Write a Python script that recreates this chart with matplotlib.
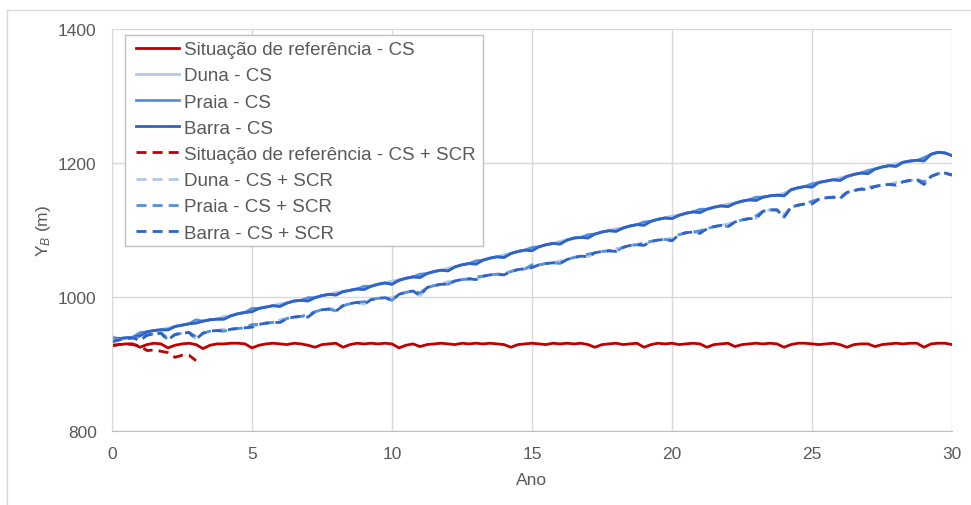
import numpy as np
import matplotlib
matplotlib.use("Agg")
import matplotlib.pyplot as plt
from matplotlib.lines import Line2D
from matplotlib.patches import Rectangle

plt.rcParams["font.family"] = ["Liberation Sans", "DejaVu Sans"]
plt.rcParams["mathtext.fontset"] = "custom"
plt.rcParams["mathtext.rm"] = "Liberation Sans"
plt.rcParams["mathtext.it"] = "Liberation Sans:italic"

# time axis: quarter-year samples over 30 years
ano = np.arange(0, 30.25, 0.25)

ref_cs = [
    927, 929, 930, 930, 925, 929, 931, 930, 924, 928, 930, 931, 929, 923, 928, 930,
    930, 931, 931, 930, 924, 928, 930, 931, 930, 929, 931, 930, 928, 925, 929, 930,
    931, 925, 929, 931, 930, 931, 930, 931, 930, 924, 928, 930, 926, 929, 930, 931,
    930, 929, 931, 930, 931, 930, 931, 930, 929, 925, 929, 930, 931, 930, 929, 931,
    930, 931, 930, 931, 929, 925, 929, 930, 931, 929, 930, 931, 925, 929, 931, 930,
    931, 929, 930, 931, 930, 925, 929, 930, 931, 926, 929, 930, 931, 930, 931, 930,
    925, 929, 931, 931, 930, 929, 930, 931, 929, 925, 929, 930, 930, 926, 929, 930,
    931, 930, 931, 931, 925, 930, 931, 931, 929,
]

duna_cs = [
    941, 938, 939, 940, 942, 948, 950, 951, 954, 956, 958, 960, 961, 964, 966, 967,
    971, 972, 975, 977, 978, 983, 985, 987, 990, 991, 994, 995, 994, 999, 1002, 1004,
    1007, 1008, 1010, 1012, 1011, 1016, 1019, 1021, 1024, 1025, 1028, 1030, 1029, 1035, 1038, 1040,
    1043, 1045, 1048, 1050, 1049, 1055, 1058, 1060, 1063, 1065, 1068, 1070, 1069, 1075, 1078, 1080,
    1083, 1085, 1088, 1089, 1088, 1094, 1097, 1099, 1102, 1103, 1106, 1108, 1107, 1113, 1116, 1118,
    1121, 1122, 1125, 1127, 1126, 1131, 1134, 1136, 1139, 1140, 1143, 1145, 1144, 1149, 1151, 1152,
    1155, 1160, 1163, 1165, 1164, 1171, 1173, 1175, 1178, 1180, 1183, 1185, 1184, 1191, 1194, 1196,
    1199, 1201, 1203, 1204, 1203, 1213, 1216, 1215, 1211,
]

praia_cs = [
    939, 938, 939, 940, 947, 948, 950, 951, 951, 956, 958, 960, 966, 964, 966, 967,
    967, 972, 975, 977, 983, 983, 985, 987, 986, 991, 994, 995, 999, 999, 1002, 1004,
    1003, 1008, 1010, 1012, 1016, 1016, 1019, 1021, 1019, 1025, 1028, 1030, 1034, 1035, 1038, 1040,
    1039, 1045, 1048, 1050, 1054, 1055, 1058, 1060, 1059, 1065, 1068, 1070, 1074, 1075, 1078, 1080,
    1079, 1085, 1088, 1089, 1093, 1094, 1097, 1099, 1098, 1103, 1106, 1108, 1112, 1113, 1116, 1118,
    1117, 1122, 1125, 1127, 1131, 1131, 1134, 1136, 1135, 1140, 1143, 1145, 1149, 1149, 1151, 1152,
    1151, 1160, 1163, 1165, 1169, 1171, 1173, 1175, 1174, 1180, 1183, 1185, 1189, 1191, 1194, 1196,
    1195, 1201, 1203, 1204, 1208, 1213, 1216, 1215, 1211,
]

barra_cs = [
    937, 938, 939, 940, 942, 948, 950, 951, 951, 956, 958, 960, 961, 964, 966, 967,
    967, 972, 975, 977, 978, 983, 985, 987, 986, 991, 994, 995, 994, 999, 1002, 1004,
    1003, 1008, 1010, 1012, 1011, 1016, 1019, 1021, 1019, 1025, 1028, 1030, 1029, 1035, 1038, 1040,
    1039, 1045, 1048, 1050, 1049, 1055, 1058, 1060, 1059, 1065, 1068, 1070, 1069, 1075, 1078, 1080,
    1079, 1085, 1088, 1089, 1088, 1094, 1097, 1099, 1098, 1103, 1106, 1108, 1107, 1113, 1116, 1118,
    1117, 1122, 1125, 1127, 1126, 1131, 1134, 1136, 1135, 1140, 1143, 1145, 1144, 1149, 1151, 1152,
    1151, 1160, 1163, 1165, 1164, 1171, 1173, 1175, 1174, 1180, 1183, 1185, 1184, 1191, 1194, 1196,
    1195, 1201, 1203, 1204, 1203, 1213, 1216, 1215, 1211,
]

# reference case with SCR only runs for the first three years
ano_ref_scr = [0, 0.25, 0.5, 0.75, 1.0, 1.25, 1.5, 1.75, 2.0, 2.25, 2.5, 2.75, 3.0]
ref_scr = [928, 929, 930, 929, 927, 920, 921, 919, 917, 910, 913, 913, 905]

duna_scr = [
    936, 936, 938, 939, 935, 943, 945, 946, 940, 944, 946, 947, 937, 946, 949, 950,
    952, 952, 953, 954, 955, 959, 961, 962, 966, 968, 970, 971, 970, 978, 981, 982,
    983, 987, 990, 992, 989, 996, 998, 999, 999, 1004, 1007, 1009, 1002, 1014, 1017, 1019,
    1023, 1024, 1026, 1027, 1026, 1031, 1033, 1034, 1037, 1038, 1041, 1042, 1044, 1048, 1050, 1051,
    1054, 1056, 1059, 1061, 1060, 1066, 1068, 1069, 1072, 1074, 1077, 1078, 1077, 1083, 1085, 1086,
    1088, 1093, 1096, 1097, 1095, 1102, 1105, 1107, 1109, 1112, 1115, 1117, 1117, 1128, 1130, 1130,
    1123, 1134, 1137, 1139, 1139, 1146, 1148, 1149, 1151, 1156, 1159, 1161, 1160, 1165, 1167, 1168,
    1171, 1172, 1174, 1175, 1168, 1180, 1184, 1185, 1182,
]

praia_scr = [
    934, 936, 938, 939, 939, 943, 945, 946, 936, 944, 946, 947, 941, 946, 949, 950,
    949, 952, 953, 954, 959, 959, 961, 962, 962, 968, 970, 971, 974, 978, 981, 982,
    979, 987, 990, 992, 993, 996, 998, 999, 995, 1004, 1007, 1009, 1006, 1014, 1017, 1019,
    1019, 1024, 1026, 1027, 1030, 1031, 1033, 1034, 1033, 1038, 1041, 1042, 1048, 1048, 1050, 1051,
    1050, 1056, 1059, 1061, 1064, 1066, 1068, 1069, 1068, 1074, 1077, 1078, 1081, 1083, 1085, 1086,
    1084, 1093, 1096, 1097, 1099, 1102, 1105, 1107, 1105, 1112, 1115, 1117, 1121, 1128, 1130, 1130,
    1119, 1134, 1137, 1139, 1143, 1146, 1148, 1149, 1147, 1156, 1159, 1161, 1164, 1165, 1167, 1168,
    1167, 1172, 1174, 1175, 1172, 1180, 1184, 1185, 1182,
]

barra_scr = [
    933, 936, 938, 939, 935, 943, 945, 946, 936, 944, 946, 947, 937, 946, 949, 950,
    949, 952, 953, 954, 955, 959, 961, 962, 962, 968, 970, 971, 970, 978, 981, 982,
    979, 987, 990, 992, 989, 996, 998, 999, 995, 1004, 1007, 1009, 1002, 1014, 1017, 1019,
    1019, 1024, 1026, 1027, 1026, 1031, 1033, 1034, 1033, 1038, 1041, 1042, 1044, 1048, 1050, 1051,
    1050, 1056, 1059, 1061, 1060, 1066, 1068, 1069, 1068, 1074, 1077, 1078, 1077, 1083, 1085, 1086,
    1084, 1093, 1096, 1097, 1095, 1102, 1105, 1107, 1105, 1112, 1115, 1117, 1117, 1128, 1130, 1130,
    1119, 1134, 1137, 1139, 1139, 1146, 1148, 1149, 1147, 1156, 1159, 1161, 1160, 1165, 1167, 1168,
    1167, 1172, 1174, 1175, 1168, 1180, 1184, 1185, 1182,
]

x_ticks = [0, 5, 10, 15, 20, 25, 30]
y_ticks = [800, 1000, 1200, 1400]

c_ref = "#C00000"
c_duna = "#B4C8E8"
c_praia = "#5590DA"
c_barra = "#2F63C8"
grid_c = "#D9D9D9"
text_c = "#595959"

W, H = 971, 506
fig = plt.figure(figsize=(W / 100, H / 100), dpi=100)
ax = fig.add_axes([112 / W, 1 - 432 / H, 840 / W, 402 / H])

lw = 2.0
dash = (3.6, 2.2)
series = [
    (ano, ref_cs, c_ref, "-", "Situação de referência - CS"),
    (ano, duna_cs, c_duna, "-", "Duna - CS"),
    (ano, praia_cs, c_praia, "-", "Praia - CS"),
    (ano, barra_cs, c_barra, "-", "Barra - CS"),
    (ano_ref_scr, ref_scr, c_ref, "--", "Situação de referência - CS + SCR"),
    (ano, duna_scr, c_duna, "--", "Duna - CS + SCR"),
    (ano, praia_scr, c_praia, "--", "Praia - CS + SCR"),
    (ano, barra_scr, c_barra, "--", "Barra - CS + SCR"),
]
for xs, ys, col, ls, lab in series:
    line, = ax.plot(xs, ys, color=col, lw=lw, ls=ls, label=lab,
                    solid_joinstyle="round", dash_joinstyle="round")
    if ls == "--":
        line.set_dashes(dash)

ax.set_xlim(0, 30)
ax.set_ylim(800, 1400)
ax.set_xticks(x_ticks)
ax.set_yticks(y_ticks)
ax.grid(True, color=grid_c, lw=1)
ax.set_axisbelow(True)
for s in ("top", "right"):
    ax.spines[s].set_visible(False)
ax.spines["left"].set_color(grid_c)
ax.spines["bottom"].set_color("#BFBFBF")
ax.tick_params(length=0, labelcolor=text_c, labelsize=12.5)
ax.tick_params(axis="x", pad=11)
ax.tick_params(axis="y", pad=11)

ax.set_xlabel("Ano", color=text_c, fontsize=12.5, labelpad=8)
ax.set_ylabel(r"Y$_{B}$ (m)", color=text_c, fontsize=12.5, labelpad=4)

# legend entries without matplotlib's frame; the box is drawn as a patch beneath them
leg = ax.legend(loc="upper left", bbox_to_anchor=(24 / 840, 1 - 12 / 402),
                borderaxespad=0, fontsize=13.5, frameon=False,
                handlelength=2.3, handletextpad=0.27,
                labelspacing=0.485, borderpad=0)
leg.set_zorder(6)
for t in leg.get_texts():
    t.set_color(text_c)
for h in leg.legend_handles:
    if h.get_linestyle() == "--":
        h.set_dashes(dash)

box = Rectangle((125 / W, 1 - 247 / H), (483 - 125) / W, (247 - 36) / H,
                transform=fig.transFigure, facecolor="white",
                edgecolor="#BFBFBF", lw=1, zorder=5, clip_on=False)
ax.add_patch(box)

# outer chart border
fig.add_artist(Line2D([7 / W, 7 / W], [0, 1 - 11 / H], transform=fig.transFigure,
                      color=grid_c, lw=1))
fig.add_artist(Line2D([7 / W, 1], [1 - 11 / H, 1 - 11 / H], transform=fig.transFigure,
                      color=grid_c, lw=1))

fig.savefig("out.png", dpi=100)
